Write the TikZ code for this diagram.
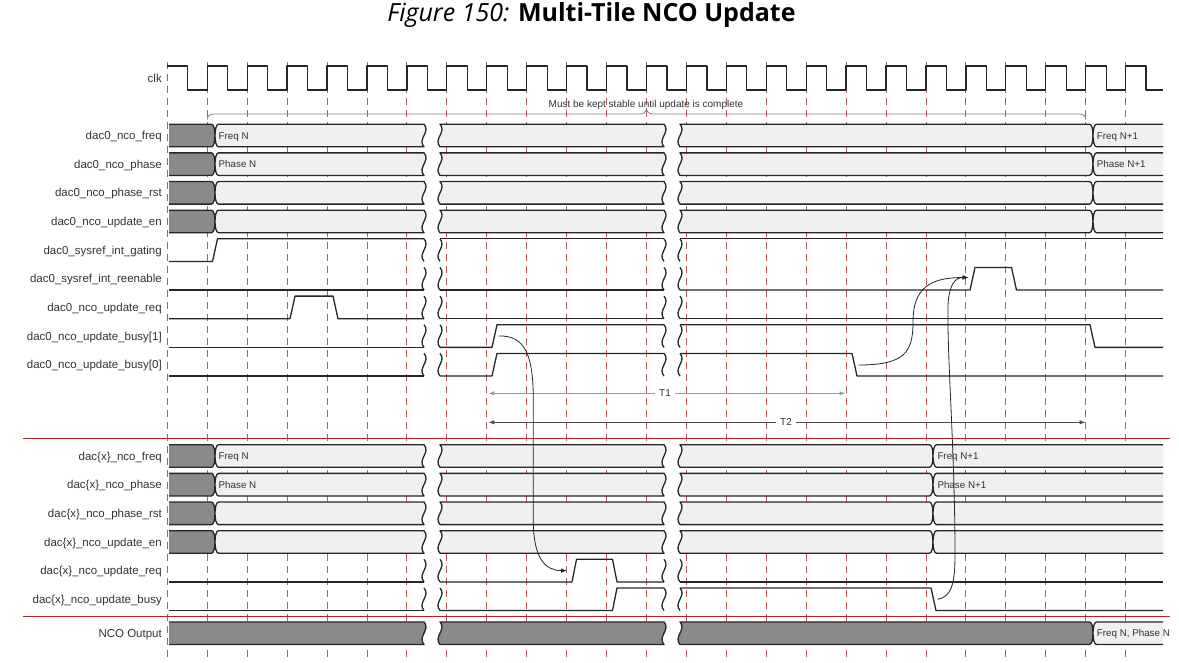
\documentclass[tikz,border=0pt]{standalone}
\usepackage{fontspec}
\setmainfont{Liberation Sans}
\newfontfamily\ttlfont{Open Sans}
\usetikzlibrary{arrows.meta}

\definecolor{gridred}{HTML}{B45A5A}
\definecolor{sepred}{HTML}{A52A2A}
\definecolor{darkfill}{HTML}{8A8A8A}
\definecolor{lightfill}{HTML}{F0F0F0}
\definecolor{sigcol}{HTML}{262626}
\definecolor{labcol}{HTML}{333333}

\def\hh{11.3}

% open left, X right
\newcommand{\busOX}[4]{%
\fill[#1] (#3,{#2-\hh}) -- ({#4-3.5},{#2-\hh}) .. controls ({#4-1},{#2-\hh}) and (#4,{#2-5}) .. (#4,#2) .. controls (#4,{#2+5}) and ({#4-1},{#2+\hh}) .. ({#4-3.5},{#2+\hh}) -- (#3,{#2+\hh}) -- cycle;
\draw[busline] (#3,{#2-\hh}) -- ({#4-3.5},{#2-\hh}) .. controls ({#4-1},{#2-\hh}) and (#4,{#2-5}) .. (#4,#2) .. controls (#4,{#2+5}) and ({#4-1},{#2+\hh}) .. ({#4-3.5},{#2+\hh}) -- (#3,{#2+\hh});}
% open left, wave right
\newcommand{\busOW}[4]{%
\fill[#1] (#3,{#2-\hh}) -- (#4,{#2-\hh}) .. controls ({#4+7},{#2-3.4}) and ({#4-7},{#2+3.4}) .. (#4,{#2+\hh}) -- (#3,{#2+\hh}) -- cycle;
\draw[busline] (#3,{#2-\hh}) -- (#4,{#2-\hh}) .. controls ({#4+7},{#2-3.4}) and ({#4-7},{#2+3.4}) .. (#4,{#2+\hh}) -- (#3,{#2+\hh});}
% X left, wave right
\newcommand{\busXW}[4]{%
\filldraw[busline,fill=#1] ({#3+3.5},{#2-\hh}) -- (#4,{#2-\hh}) .. controls ({#4+7},{#2-3.4}) and ({#4-7},{#2+3.4}) .. (#4,{#2+\hh}) -- ({#3+3.5},{#2+\hh}) .. controls ({#3+1},{#2+\hh}) and (#3,{#2+5}) .. (#3,#2) .. controls (#3,{#2-5}) and ({#3+1},{#2-\hh}) .. ({#3+3.5},{#2-\hh}) -- cycle;}
% wave left, wave right
\newcommand{\busWW}[4]{%
\filldraw[busline,fill=#1] (#3,{#2-\hh}) -- (#4,{#2-\hh}) .. controls ({#4+7},{#2-3.4}) and ({#4-7},{#2+3.4}) .. (#4,{#2+\hh}) -- (#3,{#2+\hh}) .. controls ({#3-7},{#2+3.4}) and ({#3+7},{#2-3.4}) .. (#3,{#2-\hh}) -- cycle;}
% wave left, X right
\newcommand{\busWX}[4]{%
\filldraw[busline,fill=#1] (#3,{#2-\hh}) -- ({#4-3.5},{#2-\hh}) .. controls ({#4-1},{#2-\hh}) and (#4,{#2-5}) .. (#4,#2) .. controls (#4,{#2+5}) and ({#4-1},{#2+\hh}) .. ({#4-3.5},{#2+\hh}) -- (#3,{#2+\hh}) .. controls ({#3-7},{#2+3.4}) and ({#3+7},{#2-3.4}) .. (#3,{#2-\hh}) -- cycle;}
% X left, open right
\newcommand{\busXO}[4]{%
\fill[#1] ({#3+3.5},{#2-\hh}) -- (#4,{#2-\hh}) -- (#4,{#2+\hh}) -- ({#3+3.5},{#2+\hh}) .. controls ({#3+1},{#2+\hh}) and (#3,{#2+5}) .. (#3,#2) .. controls (#3,{#2-5}) and ({#3+1},{#2-\hh}) .. ({#3+3.5},{#2-\hh}) -- cycle;
\draw[busline] (#4,{#2-\hh}) -- ({#3+3.5},{#2-\hh}) .. controls ({#3+1},{#2-\hh}) and (#3,{#2-5}) .. (#3,#2) .. controls (#3,{#2+5}) and ({#3+1},{#2+\hh}) .. ({#3+3.5},{#2+\hh}) -- (#4,{#2+\hh});}
% squiggle break mark
\newcommand{\sqgmark}[2]{\draw[sig] (#1,{#2-\hh}) .. controls ({#1+7},{#2-3.4}) and ({#1-7},{#2+3.4}) .. (#1,{#2+\hh});}

\newcommand{\upbus}[1]{\busOX{darkfill}{#1}{169}{215}\busXW{lightfill}{#1}{215}{424}\busWW{lightfill}{#1}{440}{664}\busWX{lightfill}{#1}{680}{1093}\busXO{lightfill}{#1}{1093}{1163}}
\newcommand{\lobus}[1]{\busOX{darkfill}{#1}{169}{215}\busXW{lightfill}{#1}{215}{424}\busWW{lightfill}{#1}{440}{664}\busWX{lightfill}{#1}{680}{933}\busXO{lightfill}{#1}{933}{1163}}

\begin{document}
\begin{tikzpicture}[x=1pt,y=-1pt,
  gridline/.style={draw=gridred,line width=0.9pt,dash pattern=on 7pt off 5pt},
  sig/.style={draw=sigcol,line width=1.3pt,line join=round},
  busline/.style={draw=sigcol,line width=1.3pt,line join=round},
  seprule/.style={draw=sepred,line width=1.4pt},
  lab/.style={anchor=base east,inner sep=0pt,text=labcol,font=\fontsize{11.5}{13}\selectfont},
  val/.style={anchor=base west,inner sep=0pt,text=labcol,font=\fontsize{9.8}{12}\selectfont},
  tlab/.style={inner sep=4pt,text=labcol,font=\fontsize{10}{12}\selectfont},
  curvearrow/.style={draw=sigcol,line width=0.8pt,-{Latex[length=6pt,width=4.5pt]}},
  tlineA/.style={draw=black!40,line width=0.9pt,-{Latex[length=6pt,width=4.5pt]}},
  tlineB/.style={draw=black!70,line width=0.9pt,-{Latex[length=6pt,width=4.5pt]}},
  bracel/.style={draw=black!50,line width=0.8pt}]
\useasboundingbox (0,0) rectangle (1179,662);

% title
\node[anchor=base,inner sep=0pt,font=\ttlfont\fontsize{25}{30}\selectfont] (title) at (591.5,21) {\textit{Figure 150:} \textbf{Multi-Tile NCO Update}};

% dashed clock grid
\foreach \k in {0,...,24} \draw[gridline] ({167.3+39.93*\k},62) -- ({167.3+39.93*\k},658);

% clock
\draw[sig] (167.3,66) \foreach \k in {0,...,23} { -- ({167.3+39.93*\k+20.5},66) -- ({167.3+39.93*\k+20.5},90) -- ({167.3+39.93*(\k+1)},90) -- ({167.3+39.93*(\k+1)},66) } -- (1146.1,66) -- (1146.1,90) -- (1163,90);

% brace
\draw[bracel] (207.2,119.5) .. controls (208,115.5) and (209.5,114) .. (214,114) -- (640,114) .. controls (644,114) and (646,112) .. (646.5,108.5) .. controls (647,112) and (649,114) .. (653,114) -- (1079,114) .. controls (1083.5,114) and (1085,115.5) .. (1085.8,119.5);
\node[inner sep=0pt,text=labcol,font=\fontsize{10}{12}\selectfont] (must) at (646,104.5) {Must be kept stable until update is complete};

% labels
\node[lab] (lclk) at (162,82) {clk};
\node[lab] (l0) at (162,139.6) {dac0\_nco\_freq};
\node[lab] (l1) at (162,168.2) {dac0\_nco\_phase};
\node[lab] (l2) at (162,196.9) {dac0\_nco\_phase\_rst};
\node[lab] (l3) at (162,225.5) {dac0\_nco\_update\_en};
\node[lab] (l4) at (162,254.2) {dac0\_sysref\_int\_gating};
\node[lab] (l5) at (162,282.8) {dac0\_sysref\_int\_reenable};
\node[lab] (l6) at (162,311.5) {dac0\_nco\_update\_req};
\node[lab] (l7) at (162,340.1) {dac0\_nco\_update\_busy[1]};
\node[lab] (l8) at (162,368.8) {dac0\_nco\_update\_busy[0]};
\node[lab] (m0) at (162,460.1) {dac\{x\}\_nco\_freq};
\node[lab] (m1) at (162,488.7) {dac\{x\}\_nco\_phase};
\node[lab] (m2) at (162,517.4) {dac\{x\}\_nco\_phase\_rst};
\node[lab] (m3) at (162,546) {dac\{x\}\_nco\_update\_en};
\node[lab] (m4) at (162,574.7) {dac\{x\}\_nco\_update\_req};
\node[lab] (m5) at (162,603.3) {dac\{x\}\_nco\_update\_busy};
\node[lab] (m6) at (162,637.3) {NCO Output};

% separators
\draw[seprule] (23,438.3) -- (1170,438.3);
\draw[seprule] (23,616.7) -- (1170,616.7);

% upper buses
\foreach \yy in {135.5,164.15,192.8,221.45} {\upbus{\yy}}
% lower buses
\foreach \yy in {456,484.65,513.3,541.95} {\lobus{\yy}}
% NCO output
\busOW{darkfill}{633.2}{169}{424}
\busWW{darkfill}{633.2}{440}{664}
\busWX{darkfill}{633.2}{680}{1093}
\busXO{lightfill}{633.2}{1093}{1163}

% bus values
\node[val] (v0a) at (218.5,139) {Freq N};
\node[val] (v0b) at (1096.7,139) {Freq N+1};
\node[val] (v1a) at (218.5,167.6) {Phase N};
\node[val] (v1b) at (1096.7,167.6) {Phase N+1};
\node[val] (w0a) at (218.5,459.5) {Freq N};
\node[val] (w0b) at (937.3,459.5) {Freq N+1};
\node[val] (w1a) at (218.5,488.1) {Phase N};
\node[val] (w1b) at (937.3,488.1) {Phase N+1};
\node[val] (nv) at (1096.7,636.7) {Freq N, Phase N};

% break marks on single-line rows
\foreach \yy in {250.1,278.75,307.4,336.05,364.7,570.6,599.25}
  \foreach \xx in {424,440,664,680} {\sqgmark{\xx}{\yy}}

% single-line signals
% dac0_sysref_int_gating
\draw[sig] (169,261.4) -- (212.5,261.4) -- (217.5,238.8) -- (424,238.8);
\draw[sig] (440,238.8) -- (664,238.8);
\draw[sig] (680,238.8) -- (1163,238.8);
% dac0_sysref_int_reenable
\draw[sig] (169,290.05) -- (424,290.05);
\draw[sig] (440,290.05) -- (664,290.05);
\draw[sig] (680,290.05) -- (970,290.05) -- (975,267.45) -- (1011.5,267.45) -- (1016.5,290.05) -- (1163,290.05);
% dac0_nco_update_req
\draw[sig] (169,318.7) -- (290,318.7) -- (295,296.1) -- (333,296.1) -- (338,318.7) -- (424,318.7);
\draw[sig] (440,318.7) -- (664,318.7);
\draw[sig] (680,318.7) -- (1163,318.7);
% dac0_nco_update_busy[1]
\draw[sig] (169,347.35) -- (424,347.35);
\draw[sig] (440,347.35) -- (492,347.35) -- (497,324.75) -- (664,324.75);
\draw[sig] (680,324.75) -- (1090,324.75) -- (1095,347.35) -- (1163,347.35);
% dac0_nco_update_busy[0]
\draw[sig] (169,376) -- (424,376);
\draw[sig] (440,376) -- (492,376) -- (497,353.4) -- (664,353.4);
\draw[sig] (680,353.4) -- (852,353.4) -- (857,376) -- (1163,376);
% dac{x}_nco_update_req
\draw[sig] (169,581.9) -- (424,581.9);
\draw[sig] (440,581.9) -- (572,581.9) -- (576.5,559.3) -- (612.5,559.3) -- (617,581.9) -- (664,581.9);
\draw[sig] (680,581.9) -- (1163,581.9);
% dac{x}_nco_update_busy
\draw[sig] (169,610.55) -- (424,610.55);
\draw[sig] (440,610.55) -- (612.5,610.55) -- (617,587.95) -- (664,587.95);
\draw[sig] (680,587.95) -- (931,587.95) -- (936,610.55) -- (1163,610.55);

% T1 / T2
\node[tlab] (t1) at (665,393.3) {T1};
\coordinate (t1l) at (488.3,393.3);
\coordinate (t1r) at (845.5,393.3);
\draw[tlineA] (t1.west) -- (t1l);
\draw[tlineA] (t1.east) -- (t1r);
\node[tlab] (t2) at (786,422.3) {T2};
\coordinate (t2l) at (488.3,422.3);
\coordinate (t2r) at (1085.5,422.3);
\draw[tlineB] (t2.west) -- (t2l);
\draw[tlineB] (t2.east) -- (t2r);

% causal arrows
\coordinate (a1s) at (498.5,336);
\coordinate (a1e) at (567,570.6);
\draw[curvearrow] (a1s) .. controls (525,335) and (533.3,355) .. (533.3,400) -- (533.3,520) .. controls (533.3,558) and (545,570.6) .. (a1e);
\coordinate (a2s) at (858.5,365);
\coordinate (a2e) at (968.5,277.5);
\draw[curvearrow] (a2s) .. controls (905,365) and (913,352) .. (913,322) .. controls (913,288) and (930,277.5) .. (a2e);
\coordinate (a3s) at (937.5,599.3);
\draw[curvearrow] (a3s) .. controls (951,597) and (955,585) .. (955,555) .. controls (955,450) and (947,360) .. (948,305) .. controls (949,285) and (955,277.5) .. (a2e);
\end{tikzpicture}
\end{document}
